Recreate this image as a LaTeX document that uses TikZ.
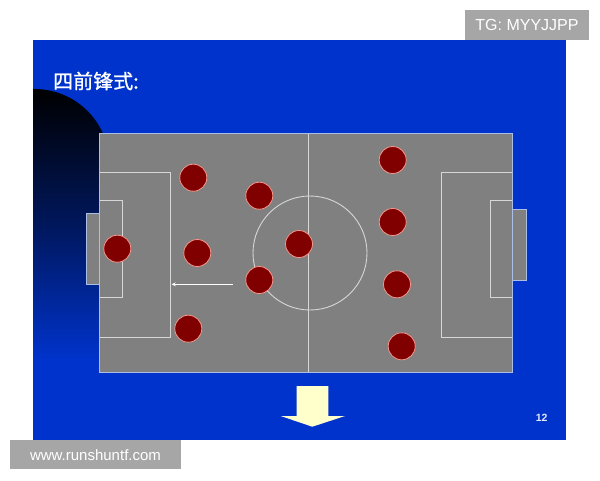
\documentclass[tikz,border=0pt]{standalone}
\usepackage{fontspec}
\setmainfont{Liberation Sans}
\newfontfamily\cjk[FakeBold=1]{Noto Sans CJK SC}
\usetikzlibrary{arrows.meta}
\definecolor{slideblue}{RGB}{0,51,204}
\definecolor{fieldgray}{RGB}{128,128,128}
\definecolor{fieldline}{RGB}{215,215,215}
\definecolor{fieldborder}{RGB}{170,190,230}
\definecolor{playerfill}{RGB}{128,0,0}
\definecolor{playerline}{RGB}{245,150,140}
\definecolor{wmgray}{RGB}{166,166,166}
\definecolor{arrowyellow}{RGB}{255,255,204}
\tikzset{
  player/.style={circle, minimum size=27pt, inner sep=0pt, fill=playerfill, draw=playerline, line width=0.8pt},
  fline/.style={draw=fieldline, line width=0.9pt},
  wmbox/.style={fill=wmgray, text=white, inner sep=0pt},
}
\begin{document}
\begin{tikzpicture}[x=1pt,y=-1pt]
\useasboundingbox (0,0) rectangle (600,480);
\fill[white] (0,0) rectangle (600,480);
% slide
\fill[slideblue] (33,40) rectangle (566,440);
\begin{scope}
  \clip (33,40) rectangle (566,440);
  \shade[top color=black, bottom color=slideblue, middle color=black!55!slideblue]
    (109.5,164) arc[start angle=0, end angle=-180, radius=75]
    -- (-40.5,360) -- (109.5,360) -- cycle;
\end{scope}
% title
\node[anchor=west, text=white, inner sep=0pt, font=\cjk\fontsize{20}{20}\selectfont] (title) at (53,81) {四前锋式:};
% field
\fill[fieldgray] (86,213.3) rectangle (99.3,284.3);
\fill[fieldgray] (512.7,209) rectangle (526.3,280);
\fill[fieldgray] (99.3,133.3) rectangle (512.7,372.7);
\draw[fieldborder, line width=0.9pt] (99.3,213.3) -- (86,213.3) -- (86,284.3) -- (99.3,284.3);
\draw[fieldborder, line width=0.9pt] (512.7,209) -- (526.3,209) -- (526.3,280) -- (512.7,280);
\draw[fline] (308.7,133.3) -- (308.7,372.7);
\draw[fline] (310,253) circle (57);
\draw[fline] (99.3,172.7) -- (170.7,172.7) -- (170.7,337.7) -- (99.3,337.7);
\draw[fline] (99.3,200) -- (122,200) -- (122,297.7) -- (99.3,297.7);
\draw[fline] (512.7,172.7) -- (441.7,172.7) -- (441.7,337.7) -- (512.7,337.7);
\draw[fline] (512.7,200) -- (490.3,200) -- (490.3,297.7) -- (512.7,297.7);
\draw[fieldborder, line width=0.9pt] (99.3,133.3) rectangle (512.7,372.7);
% run arrow
\coordinate (arrS) at (232.7,284.3);
\coordinate (arrE) at (171.7,284.3);
\draw[white, line width=0.9pt, -{Stealth[length=4pt,width=4pt]}] (arrS) -- (arrE);
% players
\node[player] (p1) at (193.3,177.7) {};
\node[player] (p2) at (259.3,195.7) {};
\node[player] (p3) at (117.3,248.7) {};
\node[player] (p4) at (197.3,253) {};
\node[player] (p5) at (299,244) {};
\node[player] (p6) at (259.3,280) {};
\node[player] (p7) at (188.3,328.7) {};
\node[player] (q1) at (392.7,160) {};
\node[player] (q2) at (392.7,222) {};
\node[player] (q3) at (397,284.3) {};
\node[player] (q4) at (401.7,346.3) {};
% down arrow
\fill[arrowyellow] (296.7,386) -- (328.3,386) -- (328.3,416) -- (345,416) -- (312.3,426.7) -- (280.7,416) -- (296.7,416) -- cycle;
% page number
\node[text=white!90!slideblue, font=\bfseries\fontsize{10.5}{10.5}\selectfont] (pg) at (541.7,417.5) {12};
% watermarks
\node[wmbox, minimum width=124pt, minimum height=30pt, font=\fontsize{16}{16}\selectfont] (tg) at (527,25) {TG: MYYJJPP};
\node[wmbox, minimum width=171pt, minimum height=29.3pt, font=\fontsize{15}{15}\selectfont] (www) at (95.5,454.7) {www.runshuntf.com};
\end{tikzpicture}
\end{document}
